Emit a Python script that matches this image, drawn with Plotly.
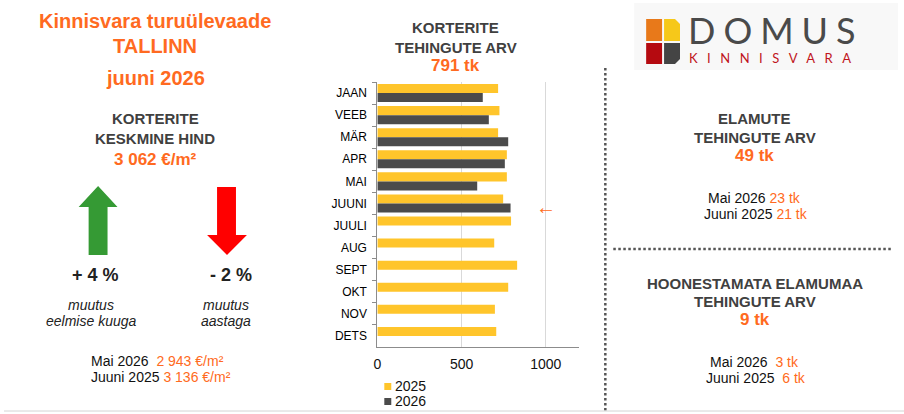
import plotly.graph_objects as go

W, H = 904, 414

# monthly apartment deals, Tallinn
months = ["JAAN", "VEEB", "MÄR", "APR", "MAI", "JUUNI",
          "JUULI", "AUG", "SEPT", "OKT", "NOV", "DETS"]
deals_2025 = [717, 725, 717, 769, 769, 747, 794, 694, 830, 777, 698, 706]
deals_2026 = [626, 662, 777, 757, 593, 791, None, None, None, None, None, None]
x_ticks = [0, 500, 1000]

ORANGE = "#FF6A21"
GRAY_TXT = "#404040"
YELLOW = "#FFC52B"
DARK = "#4B4B4B"
FONT = "Liberation Sans"


def px(x):
    return x / W


def py(y):
    return 1 - y / H


fig = go.Figure()
fig.add_trace(go.Bar(y=months, x=deals_2025, orientation="h", name="2025",
                     marker=dict(color=YELLOW, line=dict(width=0))))
fig.add_trace(go.Bar(y=months, x=deals_2026, orientation="h", name="2026",
                     marker=dict(color=DARK, line=dict(width=0))))

annotations = []


def txt(x, y, s, size=14, color="#111", bold=False, italic=False, anchor="center", family=FONT):
    annotations.append(dict(
        x=px(x), y=py(y), xref="paper", yref="paper", text=s, showarrow=False,
        xanchor=anchor, yanchor="middle",
        font=dict(family=family, size=size, color=color,
                  weight="bold" if bold else "normal",
                  style="italic" if italic else "normal")))


# left panel
txt(152, 21, "Kinnisvara turuülevaade", 20, ORANGE, bold=True)
txt(152, 46, "TALLINN", 20, ORANGE, bold=True)
txt(152, 78, "juuni 2026", 20, ORANGE, bold=True)
txt(152, 119, "KORTERITE", 15, GRAY_TXT, bold=True)
txt(152, 139, "KESKMINE HIND", 15, GRAY_TXT, bold=True)
txt(152, 160, "3 062 €/m²", 17, ORANGE, bold=True)
txt(92, 275, "+ 4 %", 18, "#222", bold=True)
txt(228, 275, "- 2 %", 18, "#222", bold=True)
txt(87, 305, "muutus", 14, "#222", italic=True)
txt(87, 321, "eelmise kuuga", 14, "#222", italic=True)
txt(223, 305, "muutus", 14, "#222", italic=True)
txt(223, 321, "aastaga", 14, "#222", italic=True)
txt(85, 361, "Mai 2026  <span style='color:%s'>2 943 €/m²</span>" % ORANGE, 14, "#111", anchor="left")
txt(85, 377, "Juuni 2025 <span style='color:%s'>3 136 €/m²</span>" % ORANGE, 14, "#111", anchor="left")

# middle title
txt(454, 28, "KORTERITE", 15, GRAY_TXT, bold=True)
txt(454, 47, "TEHINGUTE ARV", 15, GRAY_TXT, bold=True)
txt(454, 65, "791 tk", 17, ORANGE, bold=True)
txt(544, 207, "←", 20, ORANGE)

# manual legend
txt(391, 386, "2025", 14, "#111", anchor="left")
txt(391, 401, "2026", 14, "#111", anchor="left")

# right panel
txt(754, 119, "ELAMUTE", 15, GRAY_TXT, bold=True)
txt(754, 137, "TEHINGUTE ARV", 15, GRAY_TXT, bold=True)
txt(754, 155, "49 tk", 17, ORANGE, bold=True)
txt(754, 198, "Mai 2026 <span style='color:%s'>23 tk</span>" % ORANGE, 14, "#111")
txt(755, 214, "Juuni 2025 <span style='color:%s'>21 tk</span>" % ORANGE, 14, "#111")
txt(754, 283, "HOONESTAMATA ELAMUMAA", 15, GRAY_TXT, bold=True)
txt(754, 301, "TEHINGUTE ARV", 15, GRAY_TXT, bold=True)
txt(754, 319, "9 tk", 17, ORANGE, bold=True)
txt(754, 362, "Mai 2026  <span style='color:%s'>3 tk</span>" % ORANGE, 14, "#111")
txt(755, 378, "Juuni 2025  <span style='color:%s'>6 tk</span>" % ORANGE, 14, "#111")

# logo text
txt(685, 30, "<span style='letter-spacing:8px'>DOMUS</span>", 36, "#4A4A4A", anchor="left", family="Lato")
txt(686, 58, "<span style='letter-spacing:9.5px'>KINNISVARA</span>", 13, "#C0141C", anchor="left", family="Lato")


def rect(x0, y0, x1, y1, color):
    return dict(type="rect", xref="paper", yref="paper", x0=px(x0), x1=px(x1),
                y0=py(y1), y1=py(y0), fillcolor=color, line=dict(width=0), layer="below")


def path(points, color):
    d = "M " + " L ".join("%.5f,%.5f" % (px(a), py(b)) for a, b in points) + " Z"
    return dict(type="path", xref="paper", yref="paper", path=d,
                fillcolor=color, line=dict(width=0))


def line(x0, y0, x1, y1, color, width=1, dash="solid"):
    return dict(type="line", xref="paper", yref="paper", x0=px(x0), x1=px(x1),
                y0=py(y0), y1=py(y1), line=dict(color=color, width=width, dash=dash))


shapes = [
    rect(633, 3, 898, 70, "#F8F8F8"),
    rect(645, 19, 661, 41, "#E8791A"),
    path([(663, 19), (674, 19), (679, 24), (679, 41), (663, 41)], "#F6C81A"),
    rect(645, 43, 661, 64, "#B50A10"),
    path([(663, 43), (679, 43), (679, 59), (674, 64), (663, 64)], "#444444"),
    # up arrow
    path([(94.5, 186), (114, 207), (104, 207), (104, 255), (85, 255), (85, 207), (75, 207)], "#359A34"),
    # down arrow
    path([(214, 187), (233, 187), (233, 235), (244, 235), (224, 255), (204, 235), (214, 235)], "#FF0000"),
    # legend squares
    rect(382, 383, 389, 390, YELLOW),
    rect(382, 398, 389, 405, DARK),
    # separators
    line(604, 68, 604, 412, "#555555", 2.5, "2.5px,2.5px"),
    line(612, 249, 893, 249, "#555555", 2.5, "2.5px,2.5px"),
    line(0, 411, 904, 411, "#D4D4D4", 1),
]

fig.update_layout(
    width=W, height=H,
    margin=dict(l=0, r=0, t=0, b=0),
    paper_bgcolor="white", plot_bgcolor="white",
    barmode="group", bargap=0.18, bargroupgap=0,
    showlegend=False,
    font=dict(family=FONT),
    annotations=annotations,
    shapes=shapes,
    xaxis=dict(domain=[px(375), px(578)], range=[0, 1200], tickvals=x_ticks,
               showgrid=True, gridcolor="#D9D9D9", gridwidth=1, zeroline=False,
               showline=True, linecolor="#8C8C8C", linewidth=1, ticks="",
               tickfont=dict(family=FONT, size=14, color="#111"), ticklabelstandoff=4),
    yaxis=dict(domain=[py(347), py(82)], autorange="reversed", type="category",
               showline=True, linecolor="#8C8C8C", linewidth=1,
               ticks="outside", ticklen=4, tickcolor="#8C8C8C", tickson="boundaries",
               showgrid=False,
               tickfont=dict(family=FONT, size=12, color="#000"),
               ticklabelstandoff=7),
)

fig.write_html("out.html", config={"displayModeBar": False},
               post_script="document.body.style.margin='0';")
